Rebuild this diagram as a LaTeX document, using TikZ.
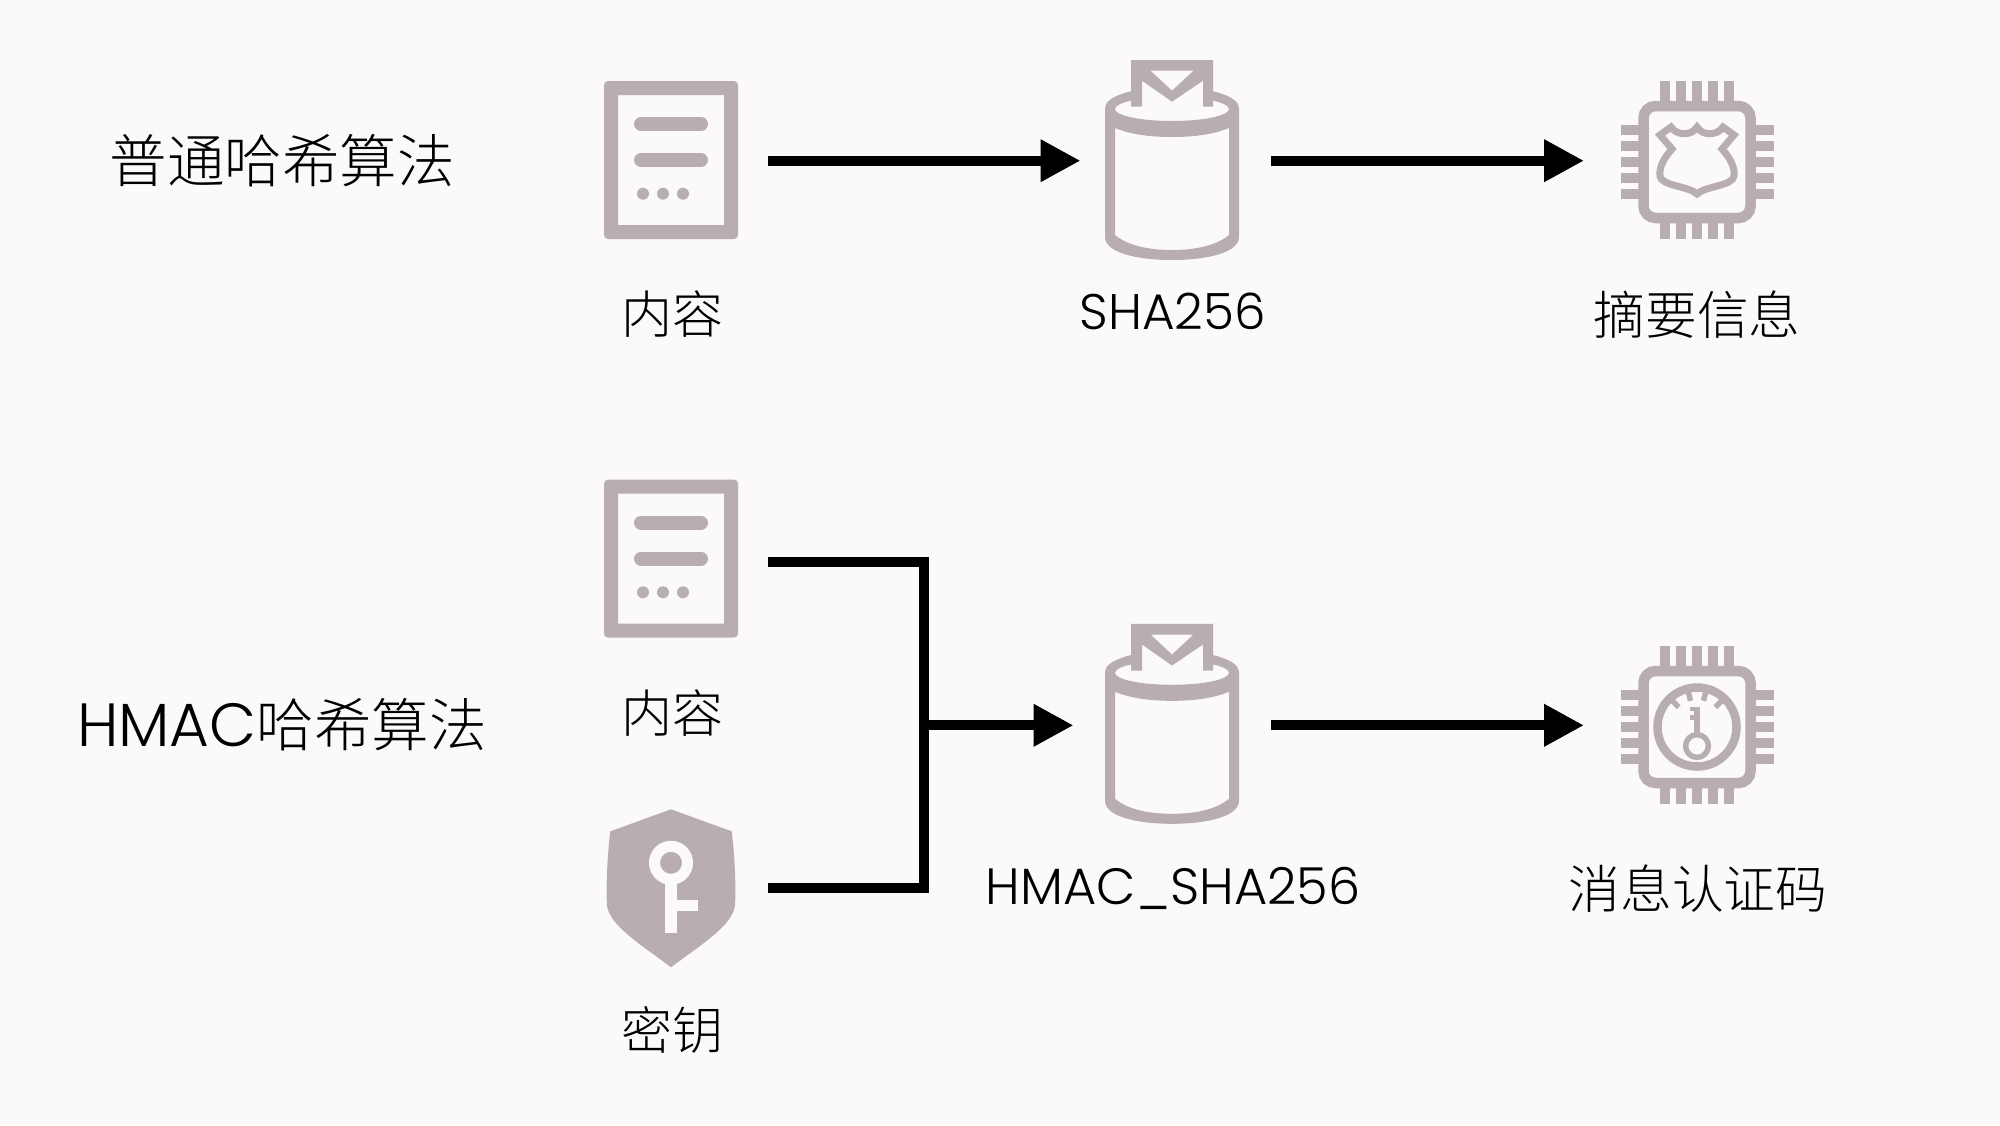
\documentclass[tikz,border=0pt]{standalone}
\usepackage{fontspec}
\setmainfont{Poppins Light}
\newfontfamily\cjk{Noto Sans CJK SC Light}
\usepackage{tikz}
\usetikzlibrary{%
  arrows.meta,%
  calc,%
  positioning}
\definecolor{bgcol}{RGB}{251,249,250}
\definecolor{iconcol}{RGB}{184,174,175}
\tikzset{
  box/.style={rectangle,inner sep=0pt,outer sep=0pt,minimum height=150pt},
  docbox/.style={box,minimum width=194pt},
  dbbox/.style={box,minimum width=197pt},
  chipbox/.style={box,minimum width=226pt},
  lbl/.style={inner sep=0pt,font=\fontsize{51}{56}\selectfont},
  lblsm/.style={inner sep=0pt,font=\fontsize{50}{55}\selectfont},
  lblbig/.style={inner sep=0pt,font=\fontsize{51.8}{56}\selectfont},
  title/.style={inner sep=0pt,font=\fontsize{57.5}{62}\selectfont},
  link/.style={line width=10pt,line join=miter},
  flow/.style={link,-{Triangle[length=40pt,width=40pt]}},
  doc/.pic={
    \fill[iconcol,rounded corners=4pt,even odd rule] (-67,-79) rectangle (67,79)
      [sharp corners] (-53,-65) rectangle (53,65);
    \draw[iconcol,line width=14pt,line cap=round] (-30,-36) -- (30,-36);
    \draw[iconcol,line width=14pt,line cap=round] (-30,0) -- (30,0);
    \foreach \x in {-28,-8,12} \fill[iconcol] (\x,33.7) circle (6);
  },
  db/.pic={
    \fill[iconcol,even odd rule] (-67,-52) .. controls (-67,-64) and (-37,-73) .. (0,-73)
      .. controls (37,-73) and (67,-64) .. (67,-52) -- (67,77)
      .. controls (67,92) and (37,100) .. (0,100) .. controls (-37,100) and (-67,92) .. (-67,77) -- cycle
      (0,-51) ellipse [x radius=57,y radius=12]
      (-57,-32) .. controls (-40,-25) and (-20,-23) .. (0,-23) .. controls (20,-23) and (40,-25) .. (57,-32)
      -- (57,75) .. controls (45,85) and (25,90) .. (0,90) .. controls (-25,90) and (-45,85) .. (-57,75) -- cycle;
    \fill[bgcol] (-41,-100) rectangle (41,-53);
    \fill[iconcol,even odd rule] (-41,-100) -- (41,-100) -- (41,-53.3) -- (31,-53.3) -- (31,-79.3) -- (0,-58.3)
      -- (-30,-79.3) -- (-30,-53.3) -- (-41,-53.3) -- cycle
      (-21.5,-89.3) -- (21.5,-89.3) -- (0,-69.3) -- cycle;
  },
  chip/.pic={
    \draw[iconcol,line width=10.5pt,rounded corners=12pt] (-53.5,-56) rectangle (53.5,56);
    \foreach \p in {-32,-16,0,16,32} {
      \fill[iconcol] (\p-5.1,-81) rectangle (\p+5.1,-60);
      \fill[iconcol] (\p-5.1,60) rectangle (\p+5.1,77.3);
      \fill[iconcol] (-76.3,\p-5) rectangle (-58,\p+5);
      \fill[iconcol] (58,\p-5) rectangle (77,\p+5);
    }
  },
  crest/.pic={
    \draw[iconcol,line width=7pt,line join=miter] (-37,-27) -- (-26,-35)
      .. controls (-21,-27) and (-6,-25) .. (0,-35) .. controls (6,-25) and (21,-27) .. (26,-35)
      -- (37,-27) -- (25,-13) .. controls (34,-3) and (38,6) .. (37,14)
      .. controls (36,24) and (8,24) .. (0,32) .. controls (-8,24) and (-36,24) .. (-37,14)
      .. controls (-38,6) and (-34,-3) .. (-25,-13) -- cycle;
  },
  gauge/.pic={
    \draw[iconcol,line width=8.5pt] (0,0) circle (39.5);
    \foreach \a in {47,76,104,133}
      \draw[iconcol,line width=5.5pt] ({36*cos(\a)},{-36*sin(\a)}) -- ({27*cos(\a)},{-27*sin(\a)});
    \draw[iconcol,line width=5.5pt] (0,19) circle (11.4);
    \fill[iconcol] (-3.3,-20) rectangle (3.3,9);
    \fill[iconcol] (-7,-20) rectangle (0,-15.7);
    \fill[iconcol] (-7,-12) rectangle (0,-7);
  },
  shieldkey/.pic={
    \fill[iconcol] (0,-79) -- (60.7,-57) .. controls (64,-30) and (65,0) .. (64,17)
      .. controls (62,37) and (29,57) .. (0,79) .. controls (-29,57) and (-62,37) .. (-64,17)
      .. controls (-65,0) and (-64,-30) .. (-60.7,-57) -- cycle;
    \draw[bgcol,line width=11pt] (0,-25.5) circle (16.5);
    \fill[bgcol] (-5.7,-10) rectangle (5.7,44.5);
    \fill[bgcol] (0,11.8) rectangle (27.3,23.1);
  }
}
\begin{document}
\begin{tikzpicture}[x=1pt,y=-1pt]
\fill[bgcol] (0,0) rectangle (2000,1125);
\useasboundingbox (0,0) rectangle (2000,1125);
% nodes of the first row
\node (docA) at (671,160.7) [docbox] {};
\node (dbA) at (1172,160.7) [dbbox] {};
\node (chipA) at (1697,160.7) [chipbox] {};
% nodes of the second row
\node (docB) at (671,562.3) [docbox] {};
\node (keyB) at (671,888.3) [docbox] {};
\node (dbB) at (1172,725.3) [dbbox] {};
\node (chipB) at (1697,725.3) [chipbox] {};
\coordinate (join) at (924.2,725.3);
% icons
\pic at (671,160) {doc};
\pic at (1172,160) {db};
\pic at (1697,162) {chip};
\pic at (1697,162) {crest};
\pic at (671,558.6) {doc};
\pic at (671,888.3) {shieldkey};
\pic at (1172,723.8) {db};
\pic at (1697,727) {chip};
\pic at (1697,727) {gauge};
% labels
\node (titleA) at (282,161) [title] {\cjk 普通哈希算法};
\node (titleB) at (282,724.5) [title] {{\fontsize{61}{62}\selectfont HMAC}{\cjk 哈希算法}};
\node (lblDocA) at (672,314.5) [lbl] {\cjk 内容};
\node (lblDbA) at (1172.5,311.5) [lblsm] {SHA256};
\node (lblChipA) at (1697,314.5) [lblbig] {\cjk 摘要信息};
\node (lblDocB) at (672,713.5) [lbl] {\cjk 内容};
\node (lblKeyB) at (672,1030) [lbl] {\cjk 密钥};
\node (lblDbB) at (1173,888) [lbl] {HMAC\_SHA256};
\node (lblChipB) at (1698,888.5) [lblbig] {\cjk 消息认证码};
% connectors
\draw[flow,shorten >=-7pt] (docA) -- (dbA);
\draw[flow] (dbA) -- (chipA);
\draw[link] (docB.east) -| (join |- keyB.east) -- (keyB.east);
\draw[flow] (join) -- (dbB.west);
\draw[flow] (dbB) -- (chipB);
\end{tikzpicture}
\end{document}
